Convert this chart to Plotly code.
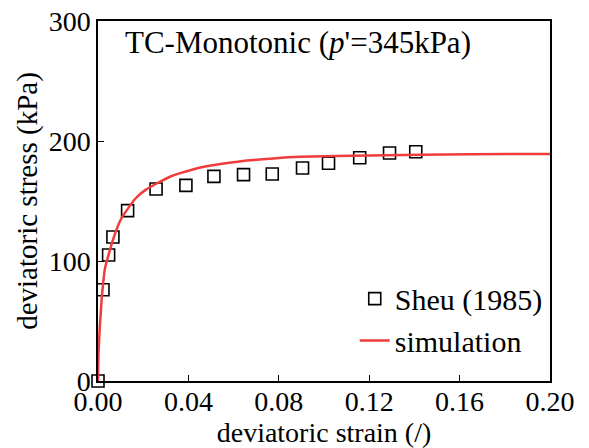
import plotly.graph_objects as go

# Experimental data: Sheu (1985)
exp_strain = [0.0, 0.0022, 0.0047, 0.0066, 0.0131, 0.0257, 0.0389, 0.0513, 0.0644, 0.0771,
              0.0905, 0.1020, 0.1158, 0.1290, 0.1406]
exp_stress = [0.0, 76, 105, 120, 142, 160, 163, 170.5, 172, 172.5,
              177.5, 181.5, 186, 190, 191]

# Simulation curve
sim_strain = [0.0, 0.0002, 0.0008, 0.0017, 0.0022, 0.0030, 0.0045, 0.0072, 0.0102, 0.0126,
              0.0168, 0.0212, 0.0264, 0.0316, 0.0360, 0.0480, 0.0627, 0.0775, 0.0893, 0.1203,
              0.1650, 0.2000]
sim_stress = [0.0, 22, 45, 70, 80, 93, 104, 121, 135, 142,
              152.5, 159.5, 165, 170, 173, 179, 183, 185.4, 186.8, 188,
              189, 189.2]

x_ticks = [0.0, 0.04, 0.08, 0.12, 0.16, 0.20]
x_tick_labels = ["0.00", "0.04", "0.08", "0.12", "0.16", "0.20"]
y_ticks = [0, 100, 200, 300]

FONT = "Liberation Serif"

fig = go.Figure()
fig.add_trace(go.Scatter(
    x=exp_strain, y=exp_stress, mode="markers", name="Sheu (1985)",
    marker=dict(symbol="square-open", size=12, color="black", line=dict(width=1.6, color="black")),
    cliponaxis=False,
))
fig.add_trace(go.Scatter(
    x=sim_strain, y=sim_stress, mode="lines", name="simulation",
    line=dict(color="#f03c3c", width=2.5, shape="spline", smoothing=0.4),
    cliponaxis=False,
))

axis_common = dict(
    showline=True, linecolor="black", linewidth=1.5, mirror=True,
    ticks="inside", ticklen=6, tickwidth=1.2, tickcolor="black",
    showgrid=False, zeroline=False, automargin=False,
    tickfont=dict(family=FONT, size=28, color="black"),
)

fig.update_xaxes(
    range=[0, 0.20], tickvals=x_ticks, ticktext=x_tick_labels, ticklabelstandoff=-5,
    title=dict(text="deviatoric strain (/)", font=dict(family=FONT, size=28, color="black"), standoff=0),
    **axis_common,
)
fig.update_yaxes(
    range=[0, 300], tickvals=y_ticks,
    title=dict(text="deviatoric stress (kPa)", font=dict(family=FONT, size=29, color="black"), standoff=3),
    **axis_common,
)

fig.add_annotation(
    text="TC-Monotonic (<i>p</i>'=345kPa)", xref="paper", yref="paper",
    x=0.055, y=0.995, xanchor="left", yanchor="top", showarrow=False,
    font=dict(family=FONT, size=31, color="black"),
)

fig.update_layout(
    width=589, height=448,
    margin=dict(l=98, r=39, t=21, b=67),
    plot_bgcolor="white", paper_bgcolor="white",
    legend=dict(
        x=0.995, y=0.04, xanchor="right", yanchor="bottom",
        font=dict(family=FONT, size=30, color="black"),
        bgcolor="rgba(0,0,0,0)", tracegroupgap=0,
    ),
)

fig.write_html("out.html")
